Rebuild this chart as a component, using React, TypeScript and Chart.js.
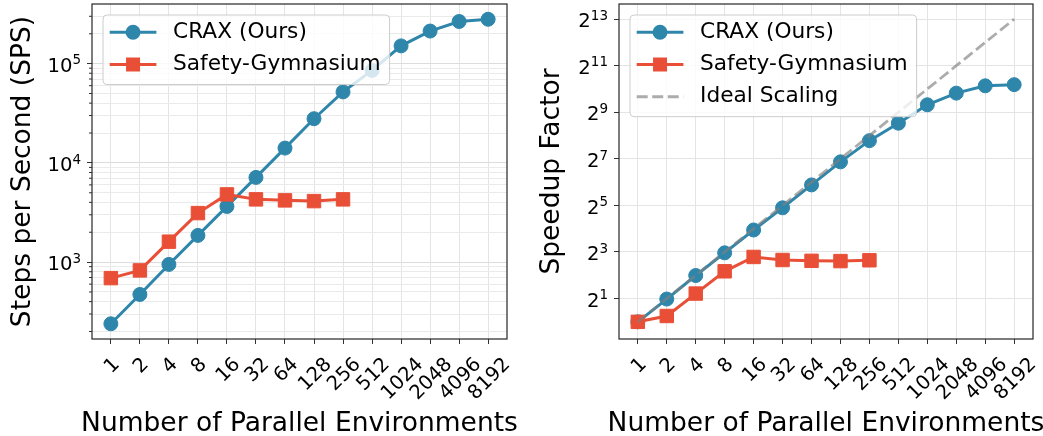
import React, { useEffect, useRef } from 'react';
import { Chart, registerables } from 'chart.js';

Chart.register(...registerables);
Chart.defaults.font.family = '"DejaVu Sans", sans-serif';
Chart.defaults.color = '#000';

// ---------- data ----------
const envLabels = ['1', '2', '4', '8', '16', '32', '64', '128', '256', '512', '1024', '2048', '4096', '8192'];
const craxSps = [239, 472, 948, 1858, 3640, 7140, 14090, 27870, 51900, 85500, 151000, 213000, 266000, 280000];
const safetySps = [690, 825, 1607, 3120, 4810, 4290, 4190, 4120, 4290];
const craxSpeedup = [1, 1.97, 3.97, 7.8, 15.4, 29.8, 58.9, 117, 220, 370, 640, 905, 1125, 1165];
const safetySpeedup = [1, 1.19, 2.32, 4.5, 6.9, 6.3, 6.15, 6.1, 6.25];
const idealSpeedup = [1, 2, 4, 8, 16, 32, 64, 128, 256, 512, 1024, 2048, 4096, 8192];

const spsTicks = [
  200, 300, 400, 500, 600, 700, 800, 900,
  1000, 2000, 3000, 4000, 5000, 6000, 7000, 8000, 9000,
  10000, 20000, 30000, 40000, 50000, 60000, 70000, 80000, 90000,
  100000, 200000, 300000,
];
const spsMajorTicks = [1000, 10000, 100000];
const spsTickBase = '10';
const spsTickExponents = ['3', '4', '5'];
const speedupTicks = [2, 8, 32, 128, 512, 2048, 8192];
const speedupTickBase = '2';
const speedupTickExponents = ['1', '3', '5', '7', '9', '11', '13'];

const seriesNames = ['CRAX (Ours)', 'Safety-Gymnasium', 'Ideal Scaling'];
const xTitle = 'Number of Parallel Environments';
const yTitleLeft = 'Steps per Second (SPS)';
const yTitleRight = 'Speedup Factor';

// ---------- style ----------
const BLUE = '#2E86AB';
const RED = '#E94F37';
const GRAY = 'rgba(128,128,128,0.65)';
const FONT = '"DejaVu Sans", sans-serif';
const TICK_FS = 19.6;
const EXP_FS = 13.5;
const LEGEND_FS = 21.7;
const TITLE_FS = 26.5;

type LegendItem = { label: string; color: string; kind: 'circle' | 'rect' | 'dash' };
type YLabels = { ticks: number[]; base: string; exps: string[] };

const toXY = (arr: number[]) => arr.map((v, i) => ({ x: i, y: v }));

function drawLegend(ctx: CanvasRenderingContext2D, ca: any, items: LegendItem[]) {
  ctx.save();
  ctx.font = `${LEGEND_FS}px ${FONT}`;
  const tw = Math.max(...items.map((it) => ctx.measureText(it.label).width));
  const x0 = ca.left + 11;
  const y0 = ca.top + 11;
  const rowH = 32.2;
  const w = 70 + tw + 9;
  const h = 17.3 + (items.length - 1) * rowH + 20;
  ctx.beginPath();
  (ctx as any).roundRect(x0, y0, w, h, 4);
  ctx.fillStyle = 'rgba(255,255,255,0.8)';
  ctx.fill();
  ctx.strokeStyle = '#cccccc';
  ctx.lineWidth = 1;
  ctx.stroke();
  items.forEach((it, i) => {
    const cy = y0 + 17.3 + i * rowH;
    const hx1 = x0 + 6.7;
    const hx2 = x0 + 53.4;
    const mx = (hx1 + hx2) / 2;
    ctx.save();
    ctx.strokeStyle = it.color;
    ctx.lineWidth = 3;
    if (it.kind === 'dash') ctx.setLineDash([11, 4.5]);
    ctx.beginPath();
    ctx.moveTo(hx1, cy);
    ctx.lineTo(hx2, cy);
    ctx.stroke();
    ctx.restore();
    ctx.fillStyle = it.color;
    if (it.kind === 'circle') {
      ctx.beginPath();
      ctx.arc(mx, cy, 7.5, 0, Math.PI * 2);
      ctx.fill();
    } else if (it.kind === 'rect') {
      ctx.fillRect(mx - 7, cy - 7, 14, 14);
    }
    ctx.fillStyle = '#000';
    ctx.textAlign = 'left';
    ctx.textBaseline = 'middle';
    ctx.fillText(it.label, x0 + 70, cy);
  });
  ctx.restore();
}

function makeDecorPlugin(legendItems: LegendItem[], yl: YLabels) {
  return {
    id: 'mplDecor',
    afterDraw(chart: any) {
      const ctx: CanvasRenderingContext2D = chart.ctx;
      const ca = chart.chartArea;
      const ys = chart.scales.y;
      const xs = chart.scales.x;
      // minor y ticks (short)
      ctx.save();
      ctx.strokeStyle = '#333';
      ctx.lineWidth = 1;
      ys.ticks.forEach((t: any) => {
        if (t.minorTick) {
          const py = ys.getPixelForValue(t.value);
          ctx.beginPath();
          ctx.moveTo(ca.left - 3, py);
          ctx.lineTo(ca.left, py);
          ctx.stroke();
        }
      });
      ctx.restore();
      // frame (spines)
      ctx.save();
      ctx.strokeStyle = '#262626';
      ctx.lineWidth = 1.2;
      ctx.strokeRect(ca.left, ca.top, ca.right - ca.left, ca.bottom - ca.top);
      ctx.restore();
      // y tick labels: base with superscript exponent
      ctx.save();
      ctx.fillStyle = '#000';
      ctx.textAlign = 'left';
      ctx.textBaseline = 'alphabetic';
      yl.ticks.forEach((v, i) => {
        const py = ys.getPixelForValue(v);
        ctx.font = `${EXP_FS}px ${FONT}`;
        const we = ctx.measureText(yl.exps[i]).width;
        ctx.font = `${TICK_FS}px ${FONT}`;
        const wb = ctx.measureText(yl.base).width;
        const xEnd = ca.left - 11;
        ctx.fillText(yl.base, xEnd - we - wb, py + 0.42 * TICK_FS);
        ctx.font = `${EXP_FS}px ${FONT}`;
        ctx.fillText(yl.exps[i], xEnd - we, py + 0.04 * TICK_FS);
      });
      ctx.restore();
      // rotated x tick labels, centred on the tick like matplotlib
      ctx.save();
      ctx.font = `${TICK_FS}px ${FONT}`;
      ctx.fillStyle = '#000';
      ctx.textAlign = 'center';
      ctx.textBaseline = 'alphabetic';
      envLabels.forEach((lab, i) => {
        const px = xs.getPixelForValue(i);
        const w = ctx.measureText(lab).width;
        const cy = ca.bottom + 16 + (w + 0.73 * TICK_FS) * 0.3536;
        ctx.save();
        ctx.translate(px, cy);
        ctx.rotate(-Math.PI / 4);
        ctx.fillText(lab, 0, 0.365 * TICK_FS);
        ctx.restore();
      });
      ctx.restore();
      // x axis title (may overflow the axes width, like matplotlib)
      ctx.save();
      ctx.font = `${TITLE_FS}px ${FONT}`;
      ctx.fillStyle = '#000';
      ctx.textAlign = 'center';
      ctx.textBaseline = 'alphabetic';
      ctx.fillText(xTitle, (ca.left + ca.right) / 2, 430.5);
      ctx.restore();
      drawLegend(ctx, ca, legendItems);
    },
  };
}

function xScaleOptions() {
  return {
    type: 'linear',
    min: -0.65,
    max: 13.65,
    afterBuildTicks: (s: any) => {
      s.ticks = envLabels.map((_, i) => ({ value: i }));
    },
    afterFit: (s: any) => {
      s.height = 97;
      s.paddingLeft = 0;
      s.paddingRight = 0;
    },
    ticks: { display: false },
    grid: { color: '#e4e4e4', lineWidth: 1, tickColor: '#333', tickLength: 5 },
    border: { display: false },
    title: { display: false },
  };
}

function leftConfig(): any {
  const isMajor = (v: number) => spsMajorTicks.includes(v);
  return {
    type: 'line',
    data: {
      datasets: [
        {
          data: toXY(craxSps),
          borderColor: BLUE,
          backgroundColor: BLUE,
          borderWidth: 3,
          pointStyle: 'circle',
          pointRadius: 7,
          pointBorderWidth: 1,
          pointBorderColor: BLUE,
          pointBackgroundColor: BLUE,
          tension: 0,
          order: 2,
        },
        {
          data: toXY(safetySps),
          borderColor: RED,
          backgroundColor: RED,
          borderWidth: 3,
          pointStyle: 'rect',
          pointRadius: 9.5,
          pointBorderWidth: 1,
          pointBorderColor: RED,
          pointBackgroundColor: RED,
          tension: 0,
          order: 1,
        },
      ],
    },
    options: {
      animation: false,
      responsive: false,
      events: [],
      layout: { autoPadding: false, padding: { top: 4, right: 13, left: 0, bottom: 0 } },
      plugins: { legend: { display: false }, tooltip: { enabled: false } },
      scales: {
        x: xScaleOptions(),
        y: {
          type: 'logarithmic',
          min: 168,
          max: 399000,
          afterBuildTicks: (s: any) => {
            s.ticks = spsTicks.map((v) => ({ value: v, minorTick: !isMajor(v) }));
          },
          afterFit: (s: any) => {
            s.width = 92;
            s.paddingTop = 0;
            s.paddingBottom = 0;
          },
          ticks: { display: false, autoSkip: false },
          grid: {
            color: (c: any) => (c.tick && isMajor(c.tick.value) ? '#dcdcdc' : '#eaeaea'),
            tickColor: (c: any) => (c.tick && isMajor(c.tick.value) ? '#333' : 'rgba(0,0,0,0)'),
            tickLength: 5,
            lineWidth: 1,
          },
          border: { display: false },
          title: {
            display: true,
            text: yTitleLeft,
            font: { size: TITLE_FS },
            color: '#000',
            padding: { top: 6.8, bottom: 0 },
          },
        },
      },
    },
    plugins: [
      makeDecorPlugin(
        [
          { label: seriesNames[0], color: BLUE, kind: 'circle' },
          { label: seriesNames[1], color: RED, kind: 'rect' },
        ],
        { ticks: spsMajorTicks, base: spsTickBase, exps: spsTickExponents },
      ),
    ],
  };
}

function rightConfig(): any {
  return {
    type: 'line',
    data: {
      datasets: [
        {
          data: toXY(craxSpeedup),
          borderColor: BLUE,
          backgroundColor: BLUE,
          borderWidth: 3,
          pointStyle: 'circle',
          pointRadius: 7,
          pointBorderWidth: 1,
          pointBorderColor: BLUE,
          pointBackgroundColor: BLUE,
          tension: 0,
          order: 3,
        },
        {
          data: toXY(safetySpeedup),
          borderColor: RED,
          backgroundColor: RED,
          borderWidth: 3,
          pointStyle: 'rect',
          pointRadius: 9.5,
          pointBorderWidth: 1,
          pointBorderColor: RED,
          pointBackgroundColor: RED,
          tension: 0,
          order: 2,
        },
        {
          data: toXY(idealSpeedup),
          borderColor: GRAY,
          borderWidth: 2.8,
          borderDash: [11, 4.5],
          pointRadius: 0,
          tension: 0,
          order: 1,
        },
      ],
    },
    options: {
      animation: false,
      responsive: false,
      events: [],
      layout: { autoPadding: false, padding: { top: 4, right: 10, left: 0, bottom: 0 } },
      plugins: { legend: { display: false }, tooltip: { enabled: false } },
      scales: {
        x: xScaleOptions(),
        y: {
          type: 'logarithmic',
          min: 0.637,
          max: 12850,
          afterBuildTicks: (s: any) => {
            s.ticks = speedupTicks.map((v) => ({ value: v }));
          },
          afterFit: (s: any) => {
            s.width = 99;
            s.paddingTop = 0;
            s.paddingBottom = 0;
          },
          ticks: { display: false, autoSkip: false },
          grid: { color: '#e4e4e4', tickColor: '#333', tickLength: 5, lineWidth: 1 },
          border: { display: false },
          title: {
            display: true,
            text: yTitleRight,
            font: { size: TITLE_FS },
            color: '#000',
            padding: { top: 15.8, bottom: 0 },
          },
        },
      },
    },
    plugins: [
      makeDecorPlugin(
        [
          { label: seriesNames[0], color: BLUE, kind: 'circle' },
          { label: seriesNames[1], color: RED, kind: 'rect' },
          { label: seriesNames[2], color: GRAY, kind: 'dash' },
        ],
        { ticks: speedupTicks, base: speedupTickBase, exps: speedupTickExponents },
      ),
    ],
  };
}

function Panel({ makeConfig, left, width, height }: { makeConfig: () => any; left: number; width: number; height: number }) {
  const ref = useRef<HTMLCanvasElement>(null);
  useEffect(() => {
    if (!ref.current) return;
    const chart = new Chart(ref.current, makeConfig());
    return () => chart.destroy();
  }, []);
  return (
    <canvas
      ref={ref}
      width={width}
      height={height}
      style={{ position: 'absolute', left, top: 0, width, height }}
    />
  );
}

export default function App() {
  return (
    <div style={{ position: 'fixed', left: 0, top: 0, width: 1043, height: 436, background: '#fff', overflow: 'hidden' }}>
      <Panel makeConfig={leftConfig} left={0} width={520} height={436} />
      <Panel makeConfig={rightConfig} left={520} width={523} height={436} />
    </div>
  );
}
